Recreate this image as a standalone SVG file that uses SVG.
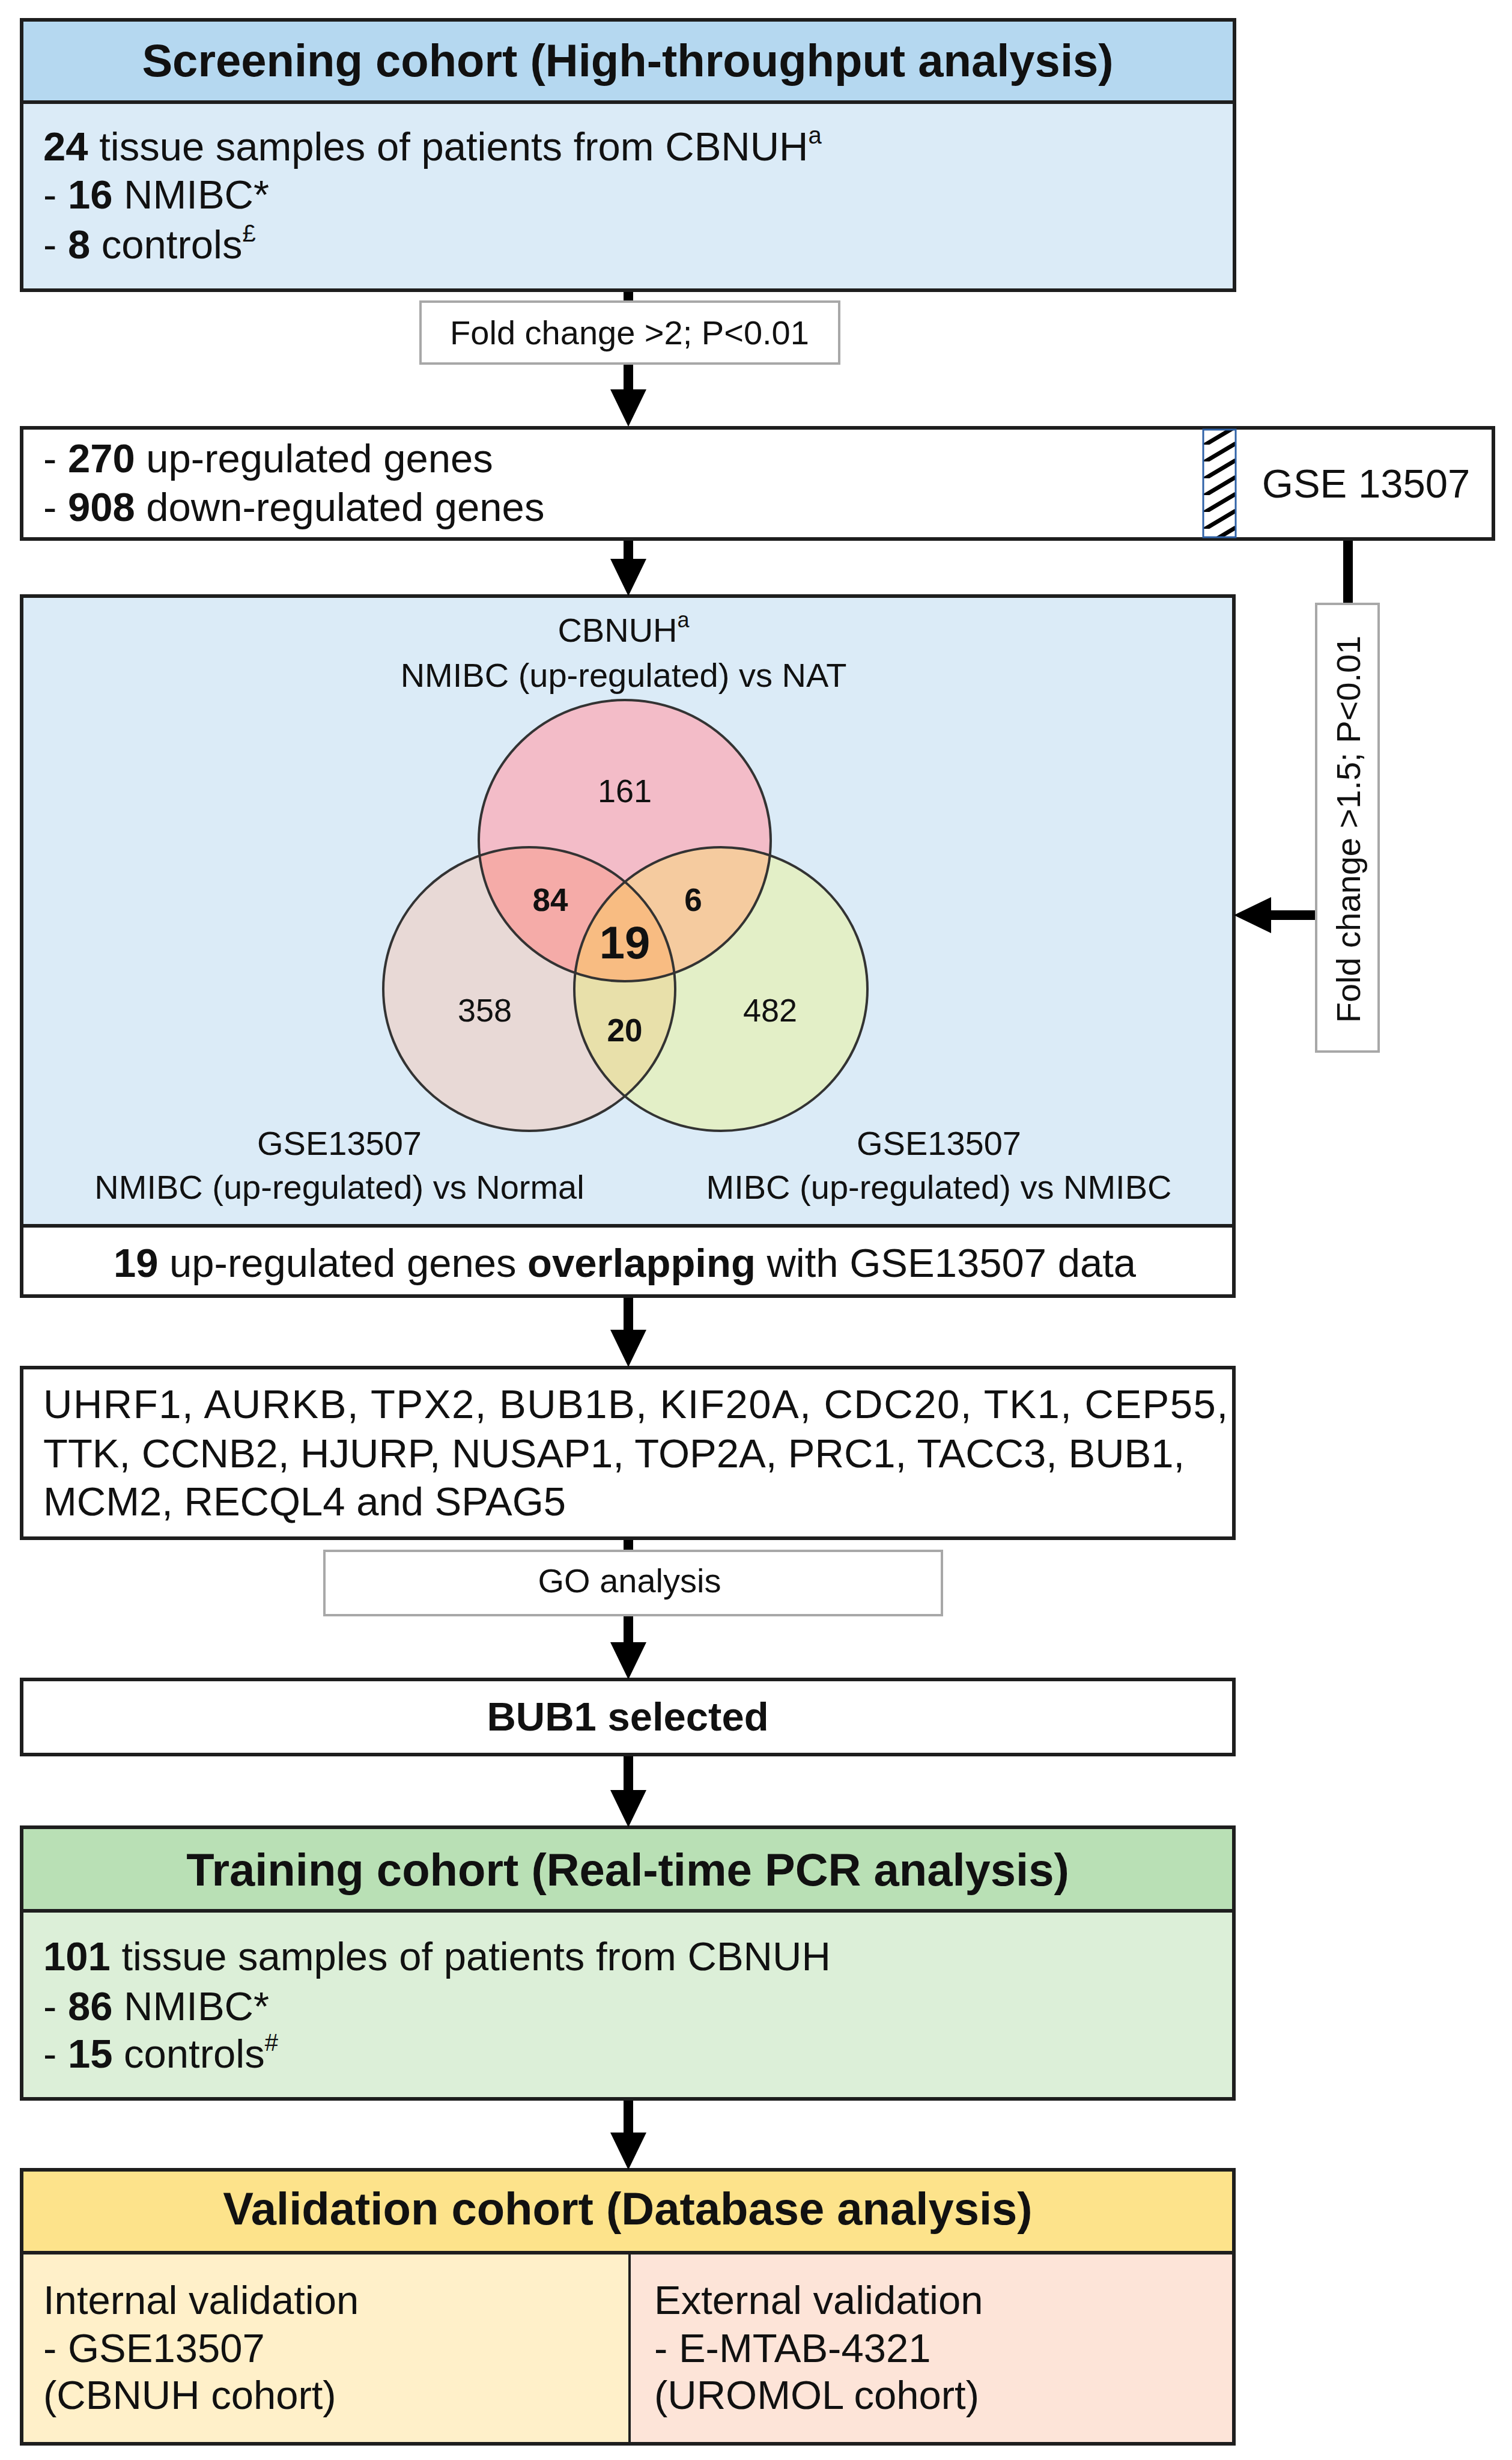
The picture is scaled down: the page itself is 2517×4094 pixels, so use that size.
<svg xmlns="http://www.w3.org/2000/svg" width="2517" height="4094" viewBox="0 0 2517 4094">
<style>
text{font-family:"Liberation Sans",Arial,Helvetica,sans-serif;fill:#111}
.t{font-size:76px;font-weight:bold;text-anchor:middle}
.b{font-size:67px}
.s{font-size:56px}
.n{font-size:54px;text-anchor:middle}
.nb{font-size:53px;font-weight:bold;text-anchor:middle}
.c{text-anchor:middle}
.box{stroke:#1e1e1e;stroke-width:6}
.lbl{fill:#fff;stroke:#a8a8a8;stroke-width:4}
.conn line{stroke:#000;stroke-width:16}
.ring{fill:none;stroke:#333;stroke-width:4}
</style>
<defs>
<marker id="ah" markerUnits="userSpaceOnUse" markerWidth="62" markerHeight="60" viewBox="0 0 62 60" refX="0" refY="30" orient="auto">
<path d="M0,0 L62,30 L0,60 Z" fill="#000"/>
</marker>
<pattern id="hatch" patternUnits="userSpaceOnUse" x="2003" y="712" width="54" height="28">
<rect width="54" height="28" fill="#fff"/>
<line x1="0" y1="30" x2="54" y2="-2" stroke="#000" stroke-width="7"/>
<line x1="0" y1="58" x2="54" y2="26" stroke="#000" stroke-width="7"/>
</pattern>
<clipPath id="cTop"><ellipse cx="1040" cy="1399" rx="243" ry="234"/></clipPath>
<clipPath id="cLeft"><ellipse cx="881" cy="1646" rx="243" ry="236"/></clipPath>
<clipPath id="cRight"><ellipse cx="1200" cy="1646" rx="244" ry="236"/></clipPath>
</defs>
<rect width="2517" height="4094" fill="#fff"/>

<g id="screening">
<rect x="36" y="33" width="2019" height="137" fill="#b5d8f0"/>
<rect x="36" y="170" width="2019" height="313" fill="#dbebf7"/>
<rect x="36" y="33" width="2019" height="450" fill="none" class="box"/>
<line x1="36" y1="170" x2="2055" y2="170" class="box"/>
<text class="t" x="1045" y="127">Screening cohort (High-throughput analysis)</text>
<text class="b" x="72" y="267"><tspan font-weight="bold">24</tspan> tissue samples of patients from CBNUH<tspan font-size="40" dy="-28">a</tspan></text>
<text class="b" x="72" y="347">- <tspan font-weight="bold">16</tspan> NMIBC*</text>
<text class="b" x="72" y="430">- <tspan font-weight="bold">8</tspan> controls<tspan font-size="40" dy="-28">£</tspan></text>
</g>

<g id="filter1">
<rect x="700" y="502" width="697" height="103" class="lbl"/>
<text class="s c" x="1048" y="573">Fold change &gt;2; P&lt;0.01</text>
</g>

<g id="degs">
<rect x="36" y="712" width="2450" height="185" fill="#fff" class="box"/>
<text class="b" x="72" y="786">- <tspan font-weight="bold">270</tspan> up-regulated genes</text>
<text class="b" x="72" y="867">- <tspan font-weight="bold">908</tspan> down-regulated genes</text>
</g>

<g id="gse13507">
<rect x="2003" y="715" width="54" height="179" fill="url(#hatch)" stroke="#2f62a8" stroke-width="3"/>
<text class="b c" x="2274" y="828">GSE 13507</text>
</g>

<g id="filter2">
<rect x="2191" y="1005" width="104" height="745" class="lbl"/>
<text class="s c" transform="translate(2243,1380) rotate(-90)" y="21">Fold change &gt;1.5; P&lt;0.01</text>
</g>

<g id="venn">
<rect x="36" y="992" width="2018" height="1048" fill="#dbebf7"/>
<text class="s c" x="1038" y="1068">CBNUH<tspan font-size="36" dy="-24">a</tspan></text>
<text class="s c" x="1038" y="1143">NMIBC (up-regulated) vs NAT</text>
<ellipse cx="881" cy="1646" rx="243" ry="236" fill="#e8d9d6"/>
<ellipse cx="1200" cy="1646" rx="244" ry="236" fill="#e3efc7"/>
<ellipse cx="1040" cy="1399" rx="243" ry="234" fill="#f3bcc8"/>
<g clip-path="url(#cLeft)"><ellipse cx="1200" cy="1646" rx="244" ry="236" fill="#e8e0aa"/></g>
<g clip-path="url(#cLeft)"><ellipse cx="1040" cy="1399" rx="243" ry="234" fill="#f5aba8"/></g>
<g clip-path="url(#cRight)"><ellipse cx="1040" cy="1399" rx="243" ry="234" fill="#f5cb9f"/></g>
<g clip-path="url(#cRight)"><g clip-path="url(#cLeft)"><ellipse cx="1040" cy="1399" rx="243" ry="234" fill="#f8bc82"/></g></g>
<ellipse cx="881" cy="1646" rx="243" ry="236" class="ring"/>
<ellipse cx="1200" cy="1646" rx="244" ry="236" class="ring"/>
<ellipse cx="1040" cy="1399" rx="243" ry="234" class="ring"/>
<text class="n" x="1040" y="1335">161</text>
<text class="nb" x="916" y="1516">84</text>
<text class="nb" x="1154" y="1516">6</text>
<text class="t" x="1040" y="1595">19</text>
<text class="n" x="807" y="1700">358</text>
<text class="n" x="1282" y="1700">482</text>
<text class="nb" x="1040" y="1733">20</text>
<text class="s c" x="565" y="1922">GSE13507</text>
<text class="s c" x="565" y="1995">NMIBC (up-regulated) vs Normal</text>
<text class="s c" x="1563" y="1922">GSE13507</text>
<text class="s c" x="1563" y="1995">MIBC (up-regulated) vs NMIBC</text>
</g>

<g id="overlap19">
<rect x="36" y="2040" width="2018" height="117" fill="#fff"/>
<text class="b c" x="1040" y="2125"><tspan font-weight="bold">19</tspan> up-regulated genes <tspan font-weight="bold">overlapping</tspan> with GSE13507 data</text>
<rect x="36" y="992" width="2018" height="1165" fill="none" class="box"/>
<line x1="36" y1="2040" x2="2054" y2="2040" class="box"/>
</g>

<g id="genes">
<rect x="36" y="2276" width="2018" height="284" fill="#fff" class="box"/>
<text class="b" x="72" y="2360" textLength="1972" lengthAdjust="spacing">UHRF1, AURKB, TPX2, BUB1B, KIF20A, CDC20, TK1, CEP55,</text>
<text class="b" x="72" y="2442">TTK, CCNB2, HJURP, NUSAP1, TOP2A, PRC1, TACC3, BUB1,</text>
<text class="b" x="72" y="2522">MCM2, RECQL4 and SPAG5</text>
</g>

<g id="go">
<rect x="540" y="2581" width="1028" height="107" class="lbl"/>
<text class="s c" x="1048" y="2650">GO analysis</text>
</g>

<g id="bub1">
<rect x="36" y="2795" width="2018" height="125" fill="#fff" class="box"/>
<text class="b c" x="1045" y="2880" font-weight="bold">BUB1 selected</text>
</g>

<g id="training">
<rect x="36" y="3041" width="2018" height="139" fill="#b9e0b5"/>
<rect x="36" y="3180" width="2018" height="313" fill="#dcefd8"/>
<rect x="36" y="3041" width="2018" height="452" fill="none" class="box"/>
<line x1="36" y1="3180" x2="2054" y2="3180" class="box"/>
<text class="t" x="1045" y="3138">Training cohort (Real-time PCR analysis)</text>
<text class="b" x="72" y="3279"><tspan font-weight="bold">101</tspan> tissue samples of patients from CBNUH</text>
<text class="b" x="72" y="3362">- <tspan font-weight="bold">86</tspan> NMIBC*</text>
<text class="b" x="72" y="3441">- <tspan font-weight="bold">15</tspan> controls<tspan font-size="40" dy="-28">#</tspan></text>
</g>

<g id="validation">
<rect x="36" y="3611" width="2018" height="138" fill="#fde38b"/>
<rect x="36" y="3749" width="1012" height="318" fill="#fff0c9"/>
<rect x="1048" y="3749" width="1006" height="318" fill="#fde4d8"/>
<rect x="36" y="3611" width="2018" height="456" fill="none" class="box"/>
<line x1="36" y1="3749" x2="2054" y2="3749" class="box"/>
<line x1="1048" y1="3749" x2="1048" y2="4067" stroke="#1e1e1e" stroke-width="4"/>
<text class="t" x="1045" y="3702">Validation cohort (Database analysis)</text>
<text class="b" x="72" y="3851">Internal validation</text>
<text class="b" x="72" y="3931">- GSE13507</text>
<text class="b" x="72" y="4009">(CBNUH cohort)</text>
<text class="b" x="1089" y="3851">External validation</text>
<text class="b" x="1089" y="3931">- E-MTAB-4321</text>
<text class="b" x="1089" y="4009">(UROMOL cohort)</text>
</g>

<g id="connectors" class="conn">
<line x1="1046" y1="486" x2="1046" y2="500"/>
<line x1="1046" y1="607" x2="1046" y2="648" marker-end="url(#ah)"/>
<line x1="1046" y1="900" x2="1046" y2="930" marker-end="url(#ah)"/>
<line x1="1046" y1="2160" x2="1046" y2="2213" marker-end="url(#ah)"/>
<line x1="1046" y1="2563" x2="1046" y2="2579"/>
<line x1="1046" y1="2690" x2="1046" y2="2733" marker-end="url(#ah)"/>
<line x1="1046" y1="2923" x2="1046" y2="2979" marker-end="url(#ah)"/>
<line x1="1046" y1="3496" x2="1046" y2="3549" marker-end="url(#ah)"/>
<line x1="2244" y1="900" x2="2244" y2="1003"/>
<line x1="2189" y1="1523" x2="2116" y2="1523" marker-end="url(#ah)"/>
</g>
</svg>
